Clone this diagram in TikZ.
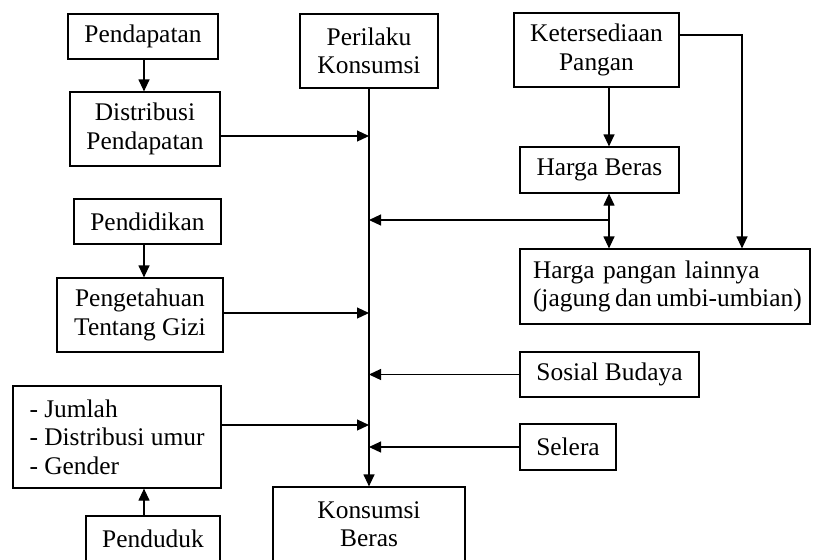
\documentclass[tikz,border=0pt]{standalone}
\usepackage{fontspec}
\setmainfont{Liberation Serif}
\usetikzlibrary{arrows.meta}

\begin{document}
\begin{tikzpicture}[x=0.5pt, y=-0.5pt, line width=0.6pt,
  box/.style={draw, inner sep=0pt, align=center,
    font=\fontsize{12.7}{14.3}\selectfont},
  arr/.style={-{Triangle[length=6pt,width=5.5pt]}},
  darr/.style={{Triangle[length=6pt,width=5.5pt]}-{Triangle[length=6pt,width=5.5pt]}}]
\clip (0,0) rectangle (813,559);

\node[box, minimum width=75pt, minimum height=22.5pt] (pendapatan) at (143,36.5) {Pendapatan};
\node[box, minimum width=75pt, minimum height=37pt] (distribusi) at (145,129) {Distribusi\\Pendapatan};
\node[box, minimum width=73.5pt, minimum height=22.5pt] (pendidikan) at (147.5,221.5) {Pendidikan};
\node[box, minimum width=83pt, minimum height=37pt] (pengetahuan) at (140,315) {Pengetahuan\\Tentang Gizi};
\node[box, minimum width=104pt, minimum height=51pt, align=left] (demografi) at (117,437)
  {- Jumlah\\- Distribusi umur\\- Gender};
\node[box, minimum width=67pt, minimum height=22.5pt] (penduduk) at (153,538.5) {Penduduk};
\node[box, minimum width=69pt, minimum height=37pt] (perilaku) at (369,51) {Perilaku\\Konsumsi};
\node[box, minimum width=96pt, minimum height=37pt] (konsumsi) at (369,524) {Konsumsi\\Beras};
\node[box, minimum width=82.5pt, minimum height=37pt] (ketersediaan) at (596.5,50) {Ketersediaan\\Pangan};
\node[box, minimum width=79.5pt, minimum height=23pt] (hargaberas) at (599.5,170) {Harga Beras};
\node[box, text width=132pt, inner xsep=6.5pt, minimum height=37.5pt, align=left] (hargapangan) at (665,286.5)
  {Harga pangan lainnya\\\mbox{\spaceskip=0.18em (jagung dan umbi-umbian)}};
\node[box, minimum width=89.5pt, minimum height=22.5pt] (sosial) at (609.5,374.5) {Sosial Budaya};
\node[box, minimum width=48pt, minimum height=23pt] (selera) at (568,447) {Selera};

\coordinate (lx) at (144,0);
\coordinate (s1) at (369,136);
\coordinate (s3) at (369,313);
\coordinate (s5) at (369,425);
\coordinate (hp) at (609,220);
\coordinate (kr) at (742,35);

  \draw[arr] (pendapatan.south -| lx) -- (distribusi.north -| lx);
  \draw[arr] (pendidikan.south -| lx) -- (pengetahuan.north -| lx);
  \draw[arr] (penduduk.north -| lx) -- (demografi.south -| lx);

  \draw[arr] (perilaku.south) -- (konsumsi.north);
  \draw[arr] (distribusi.east |- s1) -- (s1);
  \draw[arr] (pengetahuan.east |- s3) -- (s3);
  \draw[arr] (demografi.east |- s5) -- (s5);

  \draw[arr] (hp) -- (hp -| perilaku.south);
  \draw[arr] (sosial.west) -- (sosial.west -| perilaku.south);
  \draw[arr] (selera.west) -- (selera.west -| perilaku.south);

  \draw[arr] (ketersediaan.south -| hp) -- (hargaberas.north -| hp);
  \draw[darr] (hargaberas.south -| hp) -- (hargapangan.north -| hp);
  \draw[arr] (ketersediaan.east |- kr) -| (hargapangan.north -| kr);
\end{tikzpicture}
\end{document}
